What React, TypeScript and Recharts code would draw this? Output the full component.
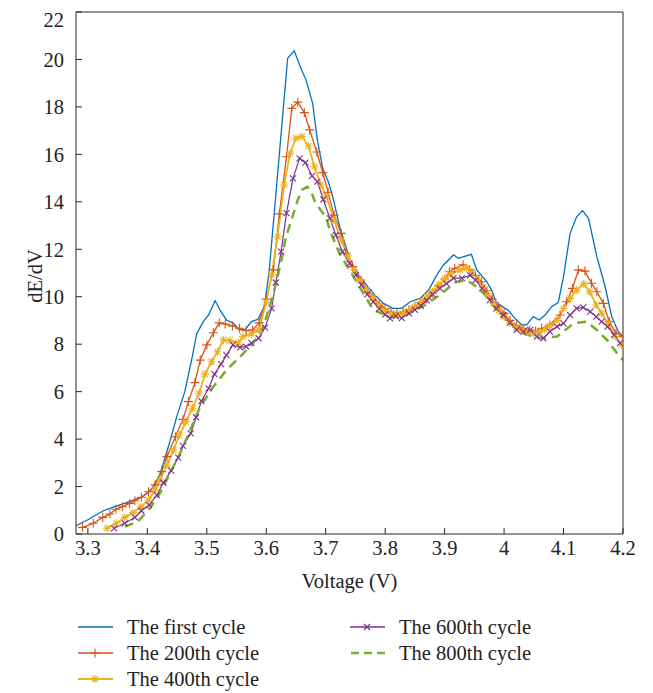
import React from "react";
import { LineChart, Line, XAxis, YAxis, Legend } from "recharts";

// voltage (V) and dE/dV readings for each cycle
const firstV = [3.28, 3.3, 3.326, 3.345, 3.365, 3.39, 3.405, 3.421, 3.438, 3.45, 3.463, 3.475, 3.483, 3.494, 3.503, 3.514, 3.523, 3.533, 3.545, 3.553, 3.564, 3.575, 3.586, 3.597, 3.605, 3.636, 3.647, 3.657, 3.667, 3.678, 3.686, 3.695, 3.705, 3.712, 3.724, 3.734, 3.741, 3.757, 3.78, 3.797, 3.813, 3.828, 3.842, 3.859, 3.873, 3.887, 3.898, 3.915, 3.923, 3.945, 3.954, 3.971, 3.979, 3.987, 3.999, 4.007, 4.018, 4.03, 4.038, 4.049, 4.059, 4.069, 4.08, 4.091, 4.1, 4.111, 4.122, 4.132, 4.142, 4.156, 4.17, 4.181, 4.192, 4.2];
const firstE = [0.35, 0.6, 0.98, 1.15, 1.32, 1.55, 1.8, 2.5, 3.9, 5.0, 6.0, 7.4, 8.43, 8.95, 9.23, 9.83, 9.4, 9.02, 8.88, 8.63, 8.6, 8.95, 9.05, 9.6, 11.1, 20.05, 20.37, 19.7, 19.13, 18.15, 16.6, 15.4, 14.8, 14.2, 12.9, 12.1, 11.55, 10.85, 10.14, 9.72, 9.51, 9.51, 9.79, 9.93, 10.28, 10.92, 11.34, 11.76, 11.62, 11.79, 11.13, 10.63, 10.28, 9.75, 9.55, 9.43, 9.09, 8.81, 8.81, 9.16, 9.02, 9.23, 9.58, 9.75, 10.85, 12.67, 13.37, 13.63, 13.3, 11.69, 10.42, 9.16, 8.53, 8.32];

const c200V = [3.291, 3.309, 3.325, 3.337, 3.347, 3.358, 3.37, 3.379, 3.39, 3.402, 3.413, 3.424, 3.433, 3.447, 3.46, 3.469, 3.48, 3.489, 3.5, 3.511, 3.521, 3.531, 3.543, 3.555, 3.566, 3.577, 3.588, 3.6, 3.612, 3.622, 3.634, 3.643, 3.653, 3.664, 3.673, 3.685, 3.695, 3.704, 3.714, 3.726, 3.734, 3.745, 3.759, 3.77, 3.78, 3.79, 3.8, 3.81, 3.82, 3.83, 3.84, 3.85, 3.86, 3.87, 3.88, 3.89, 3.9, 3.908, 3.917, 3.931, 3.942, 3.952, 3.962, 3.971, 3.98, 3.99, 4.0, 4.01, 4.021, 4.032, 4.043, 4.053, 4.063, 4.077, 4.094, 4.105, 4.115, 4.125, 4.136, 4.147, 4.156, 4.167, 4.177, 4.188, 4.2];
const c200E = [0.28, 0.45, 0.7, 0.84, 1.04, 1.15, 1.29, 1.4, 1.55, 1.78, 2.07, 2.63, 3.26, 4.1, 4.83, 5.58, 6.38, 7.33, 7.97, 8.48, 8.9, 8.85, 8.77, 8.67, 8.57, 8.6, 8.9, 9.9, 11.13, 13.49, 15.9, 17.94, 18.2, 17.76, 17.03, 16.1, 15.23, 14.4, 13.44, 12.67, 11.83, 11.27, 10.7, 10.3, 10.0, 9.7, 9.5, 9.35, 9.3, 9.35, 9.45, 9.6, 9.75, 9.9, 10.15, 10.45, 10.75, 11.05, 11.2, 11.35, 11.15, 10.9, 10.63, 10.25, 9.9, 9.6, 9.3, 9.0, 8.8, 8.67, 8.6, 8.55, 8.67, 8.81, 9.23, 9.79, 10.35, 11.13, 11.08, 10.57, 10.21, 9.72, 8.95, 8.46, 8.32];

const c400V = [3.332, 3.348, 3.362, 3.376, 3.389, 3.402, 3.413, 3.421, 3.433, 3.444, 3.454, 3.465, 3.476, 3.487, 3.497, 3.508, 3.518, 3.528, 3.539, 3.553, 3.561, 3.575, 3.588, 3.6, 3.609, 3.619, 3.63, 3.64, 3.65, 3.66, 3.671, 3.681, 3.692, 3.701, 3.714, 3.726, 3.737, 3.748, 3.757, 3.768, 3.779, 3.79, 3.8, 3.81, 3.82, 3.83, 3.84, 3.85, 3.86, 3.87, 3.88, 3.89, 3.9, 3.91, 3.926, 3.937, 3.946, 3.955, 3.964, 3.973, 3.982, 3.991, 4.0, 4.01, 4.02, 4.03, 4.04, 4.05, 4.06, 4.068, 4.077, 4.089, 4.1, 4.111, 4.122, 4.134, 4.144, 4.155, 4.164, 4.175, 4.187, 4.198];
const c400E = [0.24, 0.45, 0.7, 0.9, 1.15, 1.43, 1.85, 2.28, 2.91, 3.54, 4.17, 4.73, 5.3, 5.93, 6.74, 7.26, 7.68, 8.18, 8.15, 8.06, 8.32, 8.43, 8.6, 9.79, 10.92, 12.53, 14.71, 16.04, 16.68, 16.75, 16.35, 15.48, 14.71, 14.25, 13.23, 12.39, 11.72, 11.13, 10.7, 10.3, 9.95, 9.65, 9.42, 9.3, 9.22, 9.3, 9.4, 9.58, 9.78, 10.0, 10.22, 10.5, 10.75, 10.95, 11.13, 11.2, 11.05, 10.75, 10.4, 10.05, 9.72, 9.42, 9.15, 8.9, 8.7, 8.58, 8.5, 8.45, 8.5, 8.62, 8.77, 9.0, 9.51, 9.93, 10.28, 10.54, 10.21, 9.65, 9.3, 8.88, 8.32, 7.97];

const c600V = [3.344, 3.362, 3.379, 3.39, 3.403, 3.416, 3.427, 3.44, 3.452, 3.46, 3.473, 3.482, 3.491, 3.503, 3.513, 3.524, 3.533, 3.544, 3.556, 3.566, 3.575, 3.587, 3.598, 3.609, 3.616, 3.625, 3.634, 3.645, 3.656, 3.666, 3.677, 3.686, 3.696, 3.707, 3.717, 3.728, 3.74, 3.751, 3.76, 3.77, 3.78, 3.79, 3.8, 3.808, 3.818, 3.828, 3.84, 3.85, 3.86, 3.87, 3.88, 3.892, 3.903, 3.915, 3.929, 3.943, 3.952, 3.963, 3.976, 3.987, 3.999, 4.01, 4.021, 4.032, 4.044, 4.055, 4.066, 4.077, 4.089, 4.1, 4.111, 4.122, 4.133, 4.145, 4.155, 4.164, 4.174, 4.185, 4.195];
const c600E = [0.24, 0.45, 0.7, 0.98, 1.22, 1.64, 2.16, 2.67, 3.22, 3.71, 4.24, 4.92, 5.6, 6.14, 6.74, 7.16, 7.54, 7.97, 7.87, 7.9, 8.04, 8.25, 8.7, 9.51, 10.6, 11.9, 13.52, 14.99, 15.83, 15.65, 15.09, 14.85, 14.1, 13.3, 12.6, 11.9, 11.41, 10.92, 10.5, 10.1, 9.78, 9.5, 9.25, 9.09, 9.18, 9.1, 9.3, 9.45, 9.62, 9.85, 10.1, 10.35, 10.55, 10.78, 10.78, 10.9, 10.7, 10.35, 9.86, 9.5, 9.23, 8.91, 8.6, 8.53, 8.6, 8.32, 8.25, 8.53, 8.74, 8.88, 9.23, 9.51, 9.55, 9.37, 9.16, 8.95, 8.74, 8.39, 8.04];

const c800V = [3.362, 3.384, 3.404, 3.421, 3.438, 3.455, 3.472, 3.489, 3.511, 3.533, 3.556, 3.578, 3.595, 3.612, 3.626, 3.633, 3.653, 3.66, 3.669, 3.676, 3.683, 3.7, 3.709, 3.723, 3.74, 3.755, 3.78, 3.808, 3.836, 3.867, 3.892, 3.917, 3.937, 3.954, 3.971, 3.987, 4.01, 4.032, 4.06, 4.089, 4.117, 4.139, 4.156, 4.173, 4.19, 4.2];
const c800E = [0.31, 0.52, 1.08, 1.71, 2.56, 3.4, 4.38, 5.37, 6.21, 6.91, 7.47, 8.04, 8.74, 10.1, 11.6, 12.5, 14.08, 14.5, 14.64, 14.4, 13.94, 13.37, 12.67, 11.83, 11.13, 10.5, 9.44, 9.16, 9.23, 9.65, 10.07, 10.6, 10.7, 10.42, 10.0, 9.45, 8.88, 8.46, 8.25, 8.32, 8.88, 8.95, 8.6, 8.18, 7.62, 7.33];

const xTicks = [3.3, 3.4, 3.5, 3.6, 3.7, 3.8, 3.9, 4, 4.1, 4.2];
const yTicks = [0, 2, 4, 6, 8, 10, 12, 14, 16, 18, 20, 22];

const zip = (xs: number[], ys: number[]) => xs.map((x, i) => ({ x, v: ys[i] }));

const FONT = "'Liberation Serif', 'Times New Roman', serif";
const FS = 20.5;
const AXIS = "#262626";

const BLUE = "#0072BD";
const ORANGE = "#D95319";
const YELLOW = "#EDB120";
const PURPLE = "#7E2F8E";
const GREEN = "#77AC30";

const plusPath = (cx: number, cy: number, r: number) => `M${cx - r},${cy}h${2 * r}M${cx},${cy - r}v${2 * r}`;
const crossPath = (cx: number, cy: number, r: number) =>
  `M${cx - r},${cy - r}L${cx + r},${cy + r}M${cx - r},${cy + r}L${cx + r},${cy - r}`;

const makeDot = (kind: "plus" | "star" | "cross", color: string) => (p: any) => {
  const { cx, cy, index } = p;
  if (cx == null || cy == null) return <g key={index} />;
  let d = "";
  if (kind === "plus") d = plusPath(cx, cy, 4.5);
  if (kind === "cross") d = crossPath(cx, cy, 3);
  if (kind === "star") d = plusPath(cx, cy, 4) + crossPath(cx, cy, 3);
  return <path key={index} d={d} stroke={color} strokeWidth={1.1} fill="none" />;
};

const legendItems = [
  { name: "The first cycle", color: BLUE, kind: "none", col: 0, row: 0 },
  { name: "The 200th cycle", color: ORANGE, kind: "plus", col: 0, row: 1 },
  { name: "The 400th cycle", color: YELLOW, kind: "star", col: 0, row: 2 },
  { name: "The 600th cycle", color: PURPLE, kind: "cross", col: 1, row: 0 },
  { name: "The 800th cycle", color: GREEN, kind: "dash", col: 1, row: 1 },
];

const renderLegend = () => (
  <div style={{ position: "relative", height: 80, width: 600, fontFamily: FONT, fontSize: FS, color: "#222" }}>
    {legendItems.map((it) => {
      const left = it.col === 0 ? 70 : 342;
      const top = 14 + it.row * 26;
      let mark = "";
      if (it.kind === "plus") mark = plusPath(17, 6, 4.5);
      if (it.kind === "cross") mark = crossPath(17, 6, 3);
      if (it.kind === "star") mark = plusPath(17, 6, 4) + crossPath(17, 6, 3);
      return (
        <div key={it.name} style={{ position: "absolute", left, top: top - 12, height: 24, display: "flex", alignItems: "center" }}>
          <svg width={36} height={12} style={{ display: "block" }}>
            {it.kind === "dash" ? (
              <line x1={1} y1={6} x2={35} y2={6} stroke={it.color} strokeWidth={2.5} strokeDasharray="8 5" />
            ) : (
              <line x1={0} y1={6} x2={35} y2={6} stroke={it.color} strokeWidth={it.kind === "star" ? 1.8 : 1.3} />
            )}
            {mark && <path d={mark} stroke={it.color} strokeWidth={1.1} fill="none" />}
          </svg>
          <span style={{ marginLeft: 13, whiteSpace: "nowrap" }}>{it.name}</span>
        </div>
      );
    })}
  </div>
);

export default function App() {
  const tickStyle = { fontFamily: FONT, fontSize: FS, fill: "#222" };
  return (
    <LineChart width={645} height={685} margin={{ top: 3, right: 29, left: 0, bottom: 0 }}>
      <XAxis
        xAxisId="b"
        type="number"
        dataKey="x"
        domain={[3.28, 4.2]}
        allowDataOverflow
        ticks={xTicks}
        tickFormatter={(v: number) => String(v)}
        tickSize={-6}
        tickMargin={12}
        height={79}
        stroke={AXIS}
        tick={tickStyle}
        label={{ value: "Voltage (V)", position: "insideBottom", offset: 25, style: { fontFamily: FONT, fontSize: FS, fill: "#222" } }}
      />
      <XAxis
        xAxisId="t"
        orientation="top"
        type="number"
        dataKey="x"
        domain={[3.28, 4.2]}
        allowDataOverflow
        ticks={xTicks}
        tick={false}
        tickSize={-6}
        height={1}
        stroke={AXIS}
      />
      <YAxis
        yAxisId="l"
        type="number"
        domain={[0, 22]}
        ticks={yTicks}
        tickSize={-6}
        tickMargin={18}
        width={68}
        stroke={AXIS}
        tick={tickStyle}
        label={{ value: "dE/dV", angle: -90, position: "center", dx: -7, dy: 3, style: { fontFamily: FONT, fontSize: FS, fill: "#222" } }}
      />
      <YAxis
        yAxisId="r"
        orientation="right"
        type="number"
        domain={[0, 22]}
        ticks={yTicks}
        tick={false}
        tickSize={-6}
        width={1}
        stroke={AXIS}
      />
      <Legend verticalAlign="bottom" content={renderLegend} />
      <Line
        xAxisId="b"
        yAxisId="l"
        data={zip(firstV, firstE)}
        dataKey="v"
        name="The first cycle"
        type="linear"
        stroke={BLUE}
        strokeWidth={1.3}
        dot={false}
        isAnimationActive={false}
      />
      <Line
        xAxisId="b"
        yAxisId="l"
        data={zip(c200V, c200E)}
        dataKey="v"
        name="The 200th cycle"
        type="linear"
        stroke={ORANGE}
        strokeWidth={1.3}
        dot={makeDot("plus", ORANGE)}
        isAnimationActive={false}
      />
      <Line
        xAxisId="b"
        yAxisId="l"
        data={zip(c400V, c400E)}
        dataKey="v"
        name="The 400th cycle"
        type="linear"
        stroke={YELLOW}
        strokeWidth={1.8}
        dot={makeDot("star", YELLOW)}
        isAnimationActive={false}
      />
      <Line
        xAxisId="b"
        yAxisId="l"
        data={zip(c600V, c600E)}
        dataKey="v"
        name="The 600th cycle"
        type="linear"
        stroke={PURPLE}
        strokeWidth={1.2}
        dot={makeDot("cross", PURPLE)}
        isAnimationActive={false}
      />
      <Line
        xAxisId="b"
        yAxisId="l"
        data={zip(c800V, c800E)}
        dataKey="v"
        name="The 800th cycle"
        type="linear"
        stroke={GREEN}
        strokeWidth={2.5}
        strokeDasharray="9 6"
        dot={false}
        isAnimationActive={false}
      />
    </LineChart>
  );
}
